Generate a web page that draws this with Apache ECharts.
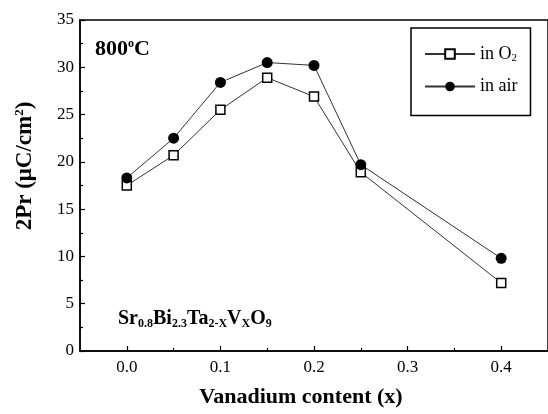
<!DOCTYPE html>
<html>
<head>
<meta charset="utf-8">
<script src="https://cdn.jsdelivr.net/npm/echarts@6/dist/echarts.min.js"></script>
<style>html,body{margin:0;padding:0;background:#fff}#c{width:548px;height:414px}</style>
</head>
<body>
<div id="c"></div>
<script>
var xValues = [0.0, 0.05, 0.1, 0.15, 0.2, 0.25, 0.4];
var inO2 = [17.5, 20.7, 25.5, 28.9, 26.9, 18.9, 7.2];
var inAir = [18.3, 22.5, 28.4, 30.5, 30.2, 19.7, 9.8];
var seriesNames = ['in O2', 'in air'];
var xTickLabels = [0, 0.1, 0.2, 0.3, 0.4];
var xMinorTicks = [0.05, 0.15, 0.25, 0.35, 0.45];
var FONT = 'Liberation Serif';

function pairs(xs, ys) { return xs.map(function (x, i) { return [x, ys[i]]; }); }

var chart = echarts.init(document.getElementById('c'), null, {renderer: 'canvas'});
chart.setOption({
  animation: false,
  backgroundColor: '#fff',
  grid: {left: 80, top: 20, bottom: 63, width: 470, show: true, borderColor: '#000', borderWidth: 1.5, backgroundColor: 'transparent'},
  xAxis: [{
    type: 'value', min: -0.05, max: 0.45, interval: 0.05,
    axisLine: {show: true, onZero: false, lineStyle: {color: '#000', width: 1.5}},
    axisTick: {show: true, inside: true, length: 5, customValues: xTickLabels, lineStyle: {color: '#000', width: 1.2}},
    axisLabel: {customValues: xTickLabels, color: '#000', fontFamily: FONT, fontSize: 17, margin: 8,
      formatter: function (v) { return v.toFixed(1); }},
    splitLine: {show: false}
  }, {
    type: 'value', min: -0.05, max: 0.45, interval: 0.05, position: 'bottom',
    axisLine: {show: false, onZero: false},
    axisTick: {show: true, inside: true, length: 3, customValues: xMinorTicks, lineStyle: {color: '#000', width: 1.2}},
    axisLabel: {show: false},
    splitLine: {show: false}
  }],
  yAxis: {
    type: 'value', min: 0, max: 35, interval: 5,
    axisLine: {show: true, onZero: false, lineStyle: {color: '#000', width: 1.5}},
    axisTick: {show: true, inside: true, length: 5, lineStyle: {color: '#000', width: 1.2}},
    minorTick: {show: true, splitNumber: 2, length: 3, lineStyle: {color: '#000', width: 1.2}},
    axisLabel: {color: '#000', fontFamily: FONT, fontSize: 17, margin: 6},
    splitLine: {show: false}
  },
  legend: {
    orient: 'vertical', left: 411, top: 28,
    padding: [17, 13, 20, 13],
    itemWidth: 50, itemHeight: 12, itemGap: 14,
    borderColor: '#000', borderWidth: 1.5, backgroundColor: '#fff',
    data: seriesNames,
    formatter: function (n) { return n === 'in O2' ? 'in O{s|2}' : n; },
    textStyle: {fontFamily: FONT, fontSize: 18, color: '#000', padding: [0, 0, 0, 0],
      rich: {s: {fontFamily: FONT, fontSize: 11, color: '#000', verticalAlign: 'bottom', padding: [8, 0, 0, 0]}}}
  },
  series: [{
    name: seriesNames[0], type: 'line', data: pairs(xValues, inO2),
    symbol: 'rect', symbolSize: 9,
    itemStyle: {color: '#fff', borderColor: '#000', borderWidth: 1.5},
    lineStyle: {color: '#333', width: 1}
  }, {
    name: seriesNames[1], type: 'line', data: pairs(xValues, inAir),
    symbol: 'circle', symbolSize: 11,
    itemStyle: {color: '#000', borderColor: '#000', borderWidth: 0},
    lineStyle: {color: '#333', width: 1}
  }],
  graphic: [{
    type: 'text', left: 95, top: 38,
    style: {text: '800{sup|o}C', fontFamily: FONT, fontWeight: 'bold', fontSize: 22, fill: '#000',
      rich: {sup: {fontFamily: FONT, fontWeight: 'bold', fontSize: 12, verticalAlign: 'top', lineHeight: 22, padding: [0, 0, 12, 0]}}}
  }, {
    type: 'text', left: 118, top: 309,
    style: {text: 'Sr{s|0.8}Bi{s|2.3}Ta{s|2-X}V{s|X}O{s|9}', fontFamily: FONT, fontWeight: 'bold', fontSize: 20, fill: '#000',
      rich: {s: {fontFamily: FONT, fontWeight: 'bold', fontSize: 12, verticalAlign: 'bottom', padding: [10, 0, 0, 0]}}}
  }, {
    type: 'text', x: 301, y: 397,
    style: {text: 'Vanadium content (x)', fontFamily: FONT, fontWeight: 'bold', fontSize: 22, fill: '#000', align: 'center', verticalAlign: 'middle'}
  }, {
    type: 'text', x: 25, y: 166, rotation: Math.PI / 2,
    style: {text: '2Pr (μC/cm{sup|2})', fontFamily: FONT, fontWeight: 'bold', fontSize: 23, fill: '#000', align: 'center', verticalAlign: 'middle',
      rich: {sup: {fontFamily: FONT, fontWeight: 'bold', fontSize: 13, verticalAlign: 'top', padding: [0, 0, 10, 0]}}}
  }]
});
</script>
</body>
</html>
